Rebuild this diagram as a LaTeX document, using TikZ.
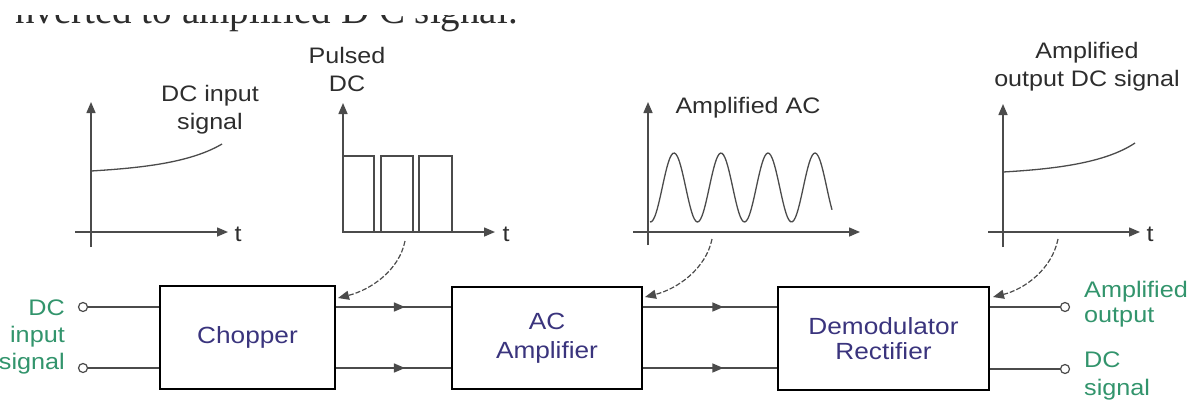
\documentclass[tikz,border=0pt]{standalone}
\usepackage{fontspec}
\setmainfont[FakeStretch=1.12]{Liberation Sans}
\newfontfamily\topserif{Liberation Serif}
\usetikzlibrary{arrows.meta,decorations.markings,calc}
\definecolor{boxtxt}{RGB}{58,52,125}
\definecolor{termtxt}{RGB}{50,148,108}
\definecolor{axisc}{RGB}{75,75,75}
\definecolor{lbl}{RGB}{45,45,45}
\begin{document}
\begin{tikzpicture}[x=1pt,y=-1pt,
  tipA/.tip={Triangle[length=11pt,width=9pt]},
  axisline/.style={draw=axisc,line width=1.5pt,-tipA},
  sig/.style={draw=axisc,line width=1.3pt},
  block/.style={draw=black,line width=2.5pt,rectangle,inner sep=0pt,font=\fontsize{23.4}{29}\selectfont,text=boxtxt,align=center},
  glabel/.style={font=\fontsize{22.4}{28}\selectfont,text=lbl,align=center,inner sep=0pt},
  term/.style={circle,draw=axisc,line width=1.2pt,fill=white,minimum size=9pt,inner sep=0pt},
  tlabel/.style={text=termtxt,inner sep=0pt},
  wire/.style={draw=axisc,line width=1.5pt},
  midarrow/.style={postaction={decorate},decoration={markings,mark=at position 0.6 with {\arrow{tipA}}}},
  pointer/.style={draw=axisc,line width=1.2pt,dash pattern=on 5pt off 2pt,-{Triangle[length=11pt,width=9pt]}},
]
\useasboundingbox (0,0) rectangle (1190,405);

% top (cut) text: only its lower part shows
\begin{scope}
\clip (0,15) rectangle (1190,40);
\node[anchor=base west,inner sep=0pt,text=lbl,font=\topserif\fontsize{39}{40}\selectfont] (toptext) at (15,23) {nverted to amplified D C signal.};
\end{scope}
\fill[white] (0,0) rectangle (600,15);

% graph 1: DC input
\draw[axisline] (91,247) -- (91,102);
\draw[axisline] (75,232) -- (228,232);
\node[glabel] (t1) at (238,234) {t};
\draw[sig] (91,171) .. controls (140,168) and (190,163) .. (222,144);
\node[glabel] (g1lab) at (210,110) {DC input\\signal};

% graph 2: pulsed DC
\draw[axisline] (343,232) -- (343,103);
\draw[axisline] (343,232) -- (495,232);
\node[glabel] (t2) at (506,234) {t};
\draw[sig] (343,232) rectangle (374,156);
\draw[sig] (381,232) rectangle (413,156);
\draw[sig] (419,232) rectangle (452,156);
\node[glabel] (g2lab) at (347,69) {Pulsed\\DC};

% graph 3: amplified AC
\draw[axisline] (648,245) -- (648,102);
\draw[axisline] (633,232) -- (860,232);
\draw[sig] plot[domain=650:832,samples=120,smooth] (\x,{187.5-34.5*cos(7.6596*(\x-674))});
\node[glabel] (g3lab) at (748,108) {Amplified AC};

% graph 4: amplified DC output
\draw[axisline] (1003,247) -- (1003,104);
\draw[axisline] (988,232) -- (1140,232);
\node[glabel] (t4) at (1150,234) {t};
\draw[sig] (1003,172) .. controls (1055,169) and (1105,163) .. (1135,143);
\node[glabel] (g4lab) at (1087,67) {Amplified\\output DC signal};

% blocks
\node[block,minimum width=175pt,minimum height=103pt] (chop) at (247.5,337.5) {Chopper};
\node[block,minimum width=190pt,minimum height=102pt] (acamp) at (547,338) {AC\\Amplifier};
\node[block,minimum width=211pt,minimum height=103pt] (demod) at (883.5,338.5) {Demodulator\\[-4pt]Rectifier};

\coordinate (ru) at (0,307);
\coordinate (rl) at (0,368);

% terminals
\node[term] (inU) at (83,307) {};
\node[term] (inL) at (83,368) {};
\node[term] (outU) at (1065,307) {};
\node[term] (outL) at (1065,369) {};

% wires
\draw[wire] (inU) -- (inU -| chop.west);
\draw[wire] (inL) -- (inL -| chop.west);
\draw[wire,midarrow] (chop.east |- ru) -- (acamp.west |- ru);
\draw[wire,midarrow] (chop.east |- rl) -- (acamp.west |- rl);
\draw[wire,midarrow] (acamp.east |- ru) -- (demod.west |- ru);
\draw[wire,midarrow] (acamp.east |- rl) -- (demod.west |- rl);
\draw[wire] (demod.east |- outU) -- (outU);
\draw[wire] (demod.east |- outL) -- (outL);

% terminal labels
\node[tlabel,align=right,anchor=east,font=\fontsize{22.5}{27}\selectfont] (inlab) at (65,337) {DC\\input\\signal};
\node[tlabel,align=left,anchor=west,font=\fontsize{22.5}{25}\selectfont] (outlab1) at (1084,304) {Amplified\\output};
\node[tlabel,align=left,anchor=west,font=\fontsize{22.5}{28}\selectfont] (outlab2) at (1084,376) {DC\\signal};

% pointers from graphs to blocks
\coordinate (p1s) at (405,241);
\coordinate (p1e) at (338,298);
\coordinate (p2s) at (712,239);
\coordinate (p2e) at (645,297);
\coordinate (p3s) at (1058,239);
\coordinate (p3e) at (993,297);
\draw[pointer] (p1s) .. controls +(-6,30) and +(32,-8) .. (p1e);
\draw[pointer] (p2s) .. controls +(-6,30) and +(32,-8) .. (p2e);
\draw[pointer] (p3s) .. controls +(-6,30) and +(32,-8) .. (p3e);
\end{tikzpicture}
\end{document}
